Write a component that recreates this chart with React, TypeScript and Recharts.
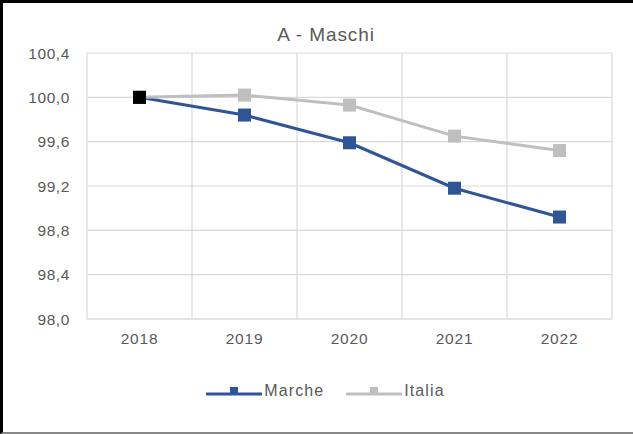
import React from 'react';
import { LineChart, Line, XAxis, YAxis, CartesianGrid, Legend } from 'recharts';

const years = ['2018', '2019', '2020', '2021', '2022'];
const marche = [100.0, 99.84, 99.59, 99.18, 98.92];
const italia = [100.0, 100.02, 99.93, 99.65, 99.52];
const yTicks = [98.0, 98.4, 98.8, 99.2, 99.6, 100.0, 100.4];
const xTicks = [0, 1, 2, 3, 4];
const gridTicks = [-0.5, 0.5, 1.5, 2.5, 3.5, 4.5];

const BLUE = '#2F5597';
const GRAY = '#BFBFBF';
const TEXT = '#595959';
const FONT = '"Liberation Sans", Arial, sans-serif';

const data = years.map((y, i) => ({ idx: i, year: y, Marche: marche[i], Italia: italia[i] }));

const SIZE = 13;

const squareDot = (color: string, firstColor?: string) => (props: any) => {
  const { cx, cy, index } = props;
  if (cx == null || cy == null) return <g key={`d-${index}`} />;
  const fill = firstColor && index === 0 ? firstColor : color;
  return <rect key={`d-${index}`} x={cx - SIZE / 2} y={cy - SIZE / 2} width={SIZE} height={SIZE} fill={fill} />;
};

const legendItems = [
  { name: 'Marche', color: BLUE },
  { name: 'Italia', color: GRAY },
];

const LegendContent = () => (
  <div style={{ display: 'flex', justifyContent: 'center', alignItems: 'center', fontFamily: FONT, fontSize: 16, color: TEXT, letterSpacing: 1.1 }}>
    {legendItems.map((it, i) => (
      <div key={it.name} style={{ display: 'flex', alignItems: 'center', marginLeft: i === 0 ? 0 : 22 }}>
        <svg width={56} height={16} style={{ display: 'block' }}>
          <line x1={1} y1={11} x2={55} y2={11} stroke={it.color} strokeWidth={3} strokeLinecap="round" />
          <rect x={24} y={4} width={8} height={8} fill={it.color} />
        </svg>
        <span style={{ marginLeft: 2 }}>{it.name}</span>
      </div>
    ))}
  </div>
);

export default function App() {
  return (
    <div style={{ position: 'absolute', left: 0, top: 0, width: 633, height: 434, background: '#fff', boxSizing: 'border-box', borderTop: '3px solid #000', borderLeft: '3px solid #000', borderBottom: '2px solid #888' }}>
      <div style={{ position: 'absolute', left: -3, top: -3, width: 633, height: 434 }}>
        <div style={{ position: 'absolute', top: 24, left: 0, width: 652, textAlign: 'center', fontFamily: FONT, fontSize: 19, color: TEXT, letterSpacing: 0.9 }}>A - Maschi</div>
        <LineChart width={633} height={434} data={data} margin={{ top: 53, right: 21, left: 0, bottom: 75 }}>
          <CartesianGrid stroke="#D9D9D9" strokeWidth={1.2} xAxisId="grid" />
          <XAxis xAxisId="grid" type="number" dataKey="idx" domain={[-0.5, 4.5]} ticks={gridTicks} hide />
          <XAxis
            type="number"
            dataKey="idx"
            domain={[-0.5, 4.5]}
            ticks={xTicks}
            tickFormatter={(v: number) => years[v] ?? ''}
            axisLine={{ stroke: '#D9D9D9', strokeWidth: 1.2 }}
            tickLine={false}
            tickMargin={8}
            height={40}
            tick={{ fill: TEXT, fontSize: 15.5, fontFamily: FONT, letterSpacing: 0.8 }}
          />
          <YAxis
            domain={[98, 100.4]}
            ticks={yTicks}
            width={87}
            axisLine={false}
            tickLine={false}
            tickMargin={11}
            tickFormatter={(v: number) => v.toFixed(1).replace('.', ',')}
            tick={{ fill: TEXT, fontSize: 15.5, fontFamily: FONT, letterSpacing: 0.6 }}
          />
          <Legend layout="horizontal" verticalAlign="middle" align="center" wrapperStyle={{ top: 382, left: 9, width: 633 }} content={<LegendContent />} />
          <Line dataKey="Marche" stroke={BLUE} strokeWidth={3} dot={squareDot(BLUE)} activeDot={false} isAnimationActive={false} />
          <Line dataKey="Italia" stroke={GRAY} strokeWidth={3} dot={squareDot(GRAY, '#000')} activeDot={false} isAnimationActive={false} />
        </LineChart>
      </div>
    </div>
  );
}
